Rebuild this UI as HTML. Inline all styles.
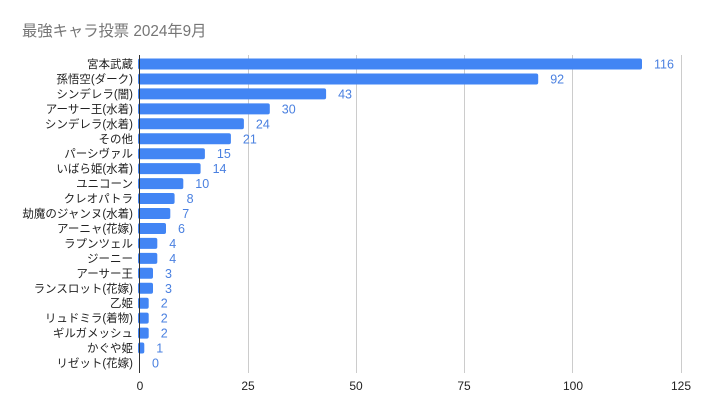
<!DOCTYPE html>
<html><head><meta charset="utf-8"><style>
html,body{margin:0;padding:0;background:#fff;}
svg{display:block;font-family:"Liberation Sans","Noto Sans CJK JP",sans-serif;}
</style></head><body>
<svg width="702" height="414" viewBox="0 0 702 414" xmlns="http://www.w3.org/2000/svg">
<rect width="702" height="414" fill="#fff"/>
<text x="22" y="36" font-size="15.3" fill="#757575">最強キャラ投票 2024年9月</text>
<g stroke="#cccccc" stroke-width="1">
<line x1="248.5" y1="55" x2="248.5" y2="373"/>
<line x1="356.5" y1="55" x2="356.5" y2="373"/>
<line x1="464.5" y1="55" x2="464.5" y2="373"/>
<line x1="572.5" y1="55" x2="572.5" y2="373"/>
<line x1="681.5" y1="55" x2="681.5" y2="373"/>
</g>
<g font-size="12" fill="#222" text-anchor="middle">
<text x="140" y="390">0</text><text x="248" y="390">25</text><text x="356" y="390">50</text><text x="464" y="390">75</text><text x="573" y="390">100</text><text x="681" y="390">125</text>
</g>
<g fill="#4285f4">
<rect x="138" y="58.5" width="504" height="11" rx="2"/>
<rect x="138" y="73.45" width="400.2" height="11" rx="2"/>
<rect x="138" y="88.4" width="188.1" height="11" rx="2"/>
<rect x="138" y="103.35" width="131.8" height="11" rx="2"/>
<rect x="138" y="118.3" width="105.9" height="11" rx="2"/>
<rect x="138" y="133.25" width="92.9" height="11" rx="2"/>
<rect x="138" y="148.2" width="66.9" height="11" rx="2"/>
<rect x="138" y="163.15" width="62.6" height="11" rx="2"/>
<rect x="138" y="178.1" width="45.3" height="11" rx="2"/>
<rect x="138" y="193.05" width="36.6" height="11" rx="2"/>
<rect x="138" y="208" width="32.3" height="11" rx="2"/>
<rect x="138" y="222.95" width="28" height="11" rx="2"/>
<rect x="138" y="237.9" width="19.3" height="11" rx="2"/>
<rect x="138" y="252.85" width="19.3" height="11" rx="2"/>
<rect x="138" y="267.8" width="15" height="11" rx="2"/>
<rect x="138" y="282.75" width="15" height="11" rx="2"/>
<rect x="138" y="297.7" width="10.7" height="11" rx="2"/>
<rect x="138" y="312.65" width="10.7" height="11" rx="2"/>
<rect x="138" y="327.6" width="10.7" height="11" rx="2"/>
<rect x="138" y="342.55" width="6.3" height="11" rx="2"/>
</g>
<g font-size="11.5" fill="#222" text-anchor="end">
<text x="133" y="68">宮本武蔵</text>
<text x="133" y="82.95">孫悟空(ダーク)</text>
<text x="133" y="97.9">シンデレラ(闇)</text>
<text x="133" y="112.85">アーサー王(水着)</text>
<text x="133" y="127.8">シンデレラ(水着)</text>
<text x="133" y="142.75">その他</text>
<text x="133" y="157.7">パーシヴァル</text>
<text x="133" y="172.65">いばら姫(水着)</text>
<text x="133" y="187.6">ユニコーン</text>
<text x="133" y="202.55">クレオパトラ</text>
<text x="133" y="217.5">劫魔のジャンヌ(水着)</text>
<text x="133" y="232.45">アーニャ(花嫁)</text>
<text x="133" y="247.4">ラプンツェル</text>
<text x="133" y="262.35">ジーニー</text>
<text x="133" y="277.3">アーサー王</text>
<text x="133" y="292.25">ランスロット(花嫁)</text>
<text x="133" y="307.2">乙姫</text>
<text x="133" y="322.15">リュドミラ(着物)</text>
<text x="133" y="337.1">ギルガメッシュ</text>
<text x="133" y="352.05">かぐや姫</text>
<text x="133" y="367">リゼット(花嫁)</text>
</g>
<g font-size="12.5" fill="#4a80e0">
<text x="654" y="68.5">116</text>
<text x="550.2" y="83.45">92</text>
<text x="338.1" y="98.4">43</text>
<text x="281.8" y="113.35">30</text>
<text x="255.9" y="128.3">24</text>
<text x="242.9" y="143.25">21</text>
<text x="216.9" y="158.2">15</text>
<text x="212.6" y="173.15">14</text>
<text x="195.3" y="188.1">10</text>
<text x="186.6" y="203.05">8</text>
<text x="182.3" y="218">7</text>
<text x="178" y="232.95">6</text>
<text x="169.3" y="247.9">4</text>
<text x="169.3" y="262.85">4</text>
<text x="165" y="277.8">3</text>
<text x="165" y="292.75">3</text>
<text x="160.7" y="307.7">2</text>
<text x="160.7" y="322.65">2</text>
<text x="160.7" y="337.6">2</text>
<text x="156.3" y="352.55">1</text>
<text x="152" y="367.5">0</text>
</g>
<line x1="139.5" y1="55" x2="139.5" y2="373" stroke="#333" stroke-width="1"/>
</svg>
</body></html>
